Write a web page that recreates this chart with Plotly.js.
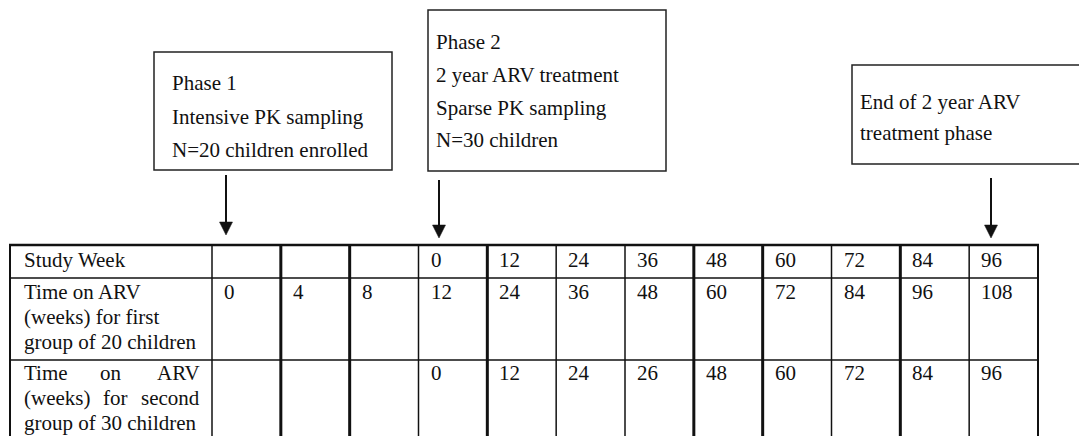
<!DOCTYPE html>
<html>
<head>
<meta charset="utf-8">
<script src="https://cdn.plot.ly/plotly-3.0.1.min.js"></script>
<style>html,body{margin:0;padding:0;background:#fff;}#chart{width:1079px;height:436px;}</style>
</head>
<body>
<div id="chart"></div>
<script>
// ---- data ----
const rowLabel1 = ["Study Week"];
const rowLabel2 = ["Time on ARV", "(weeks) for first", "group of 20 children"];
const rowLabel3 = [["Time", "on", "ARV"], ["(weeks)", "for", "second"], ["group of 30 children"]];
const studyWeek   = [null, null, null, 0, 12, 24, 36, 48, 60, 72, 84, 96];
const firstGroup  = [0, 4, 8, 12, 24, 36, 48, 60, 72, 84, 96, 108];
const secondGroup = [null, null, null, 0, 12, 24, 26, 48, 60, 72, 84, 96];
const box1Text = ["Phase 1", "Intensive PK sampling", "N=20 children enrolled"];
const box2Text = ["Phase 2", "2 year ARV treatment", "Sparse PK sampling", "N=30 children"];
const box3Text = ["End of 2 year ARV", "treatment phase"];

// ---- layout geometry ----
const W = 1079, H = 436;
const tableLeft = 10, firstColRight = 212, tableRight = 1038, tableTop = 245;
const rowLines = [278, 360];
const nCols = studyWeek.length;
const colW = (tableRight - firstColRight) / nCols;
const thickIdx = [1, 2, 4, 7, 8, 10];
const FONT = {family: "Liberation Serif, Times New Roman, serif", size: 21, color: "#111"};
const lineCol = "#111";

const shapes = [];
const annotations = [];

function line(x0, y0, x1, y1, w) {
  shapes.push({type: "line", xref: "x", yref: "y", x0, y0, x1, y1, line: {color: lineCol, width: w}});
}
function rect(x0, y0, x1, y1) {
  shapes.push({type: "rect", xref: "x", yref: "y", x0, y0, x1, y1, line: {color: "#222", width: 1.5}, fillcolor: "rgba(0,0,0,0)"});
}
function text(t, x, y, anchor) {
  annotations.push({text: t, x, y, xref: "x", yref: "y", xanchor: anchor || "left", yanchor: "middle",
    showarrow: false, font: FONT, borderpad: 0});
}
function arrow(x, y0, tip) {
  const head = 13, half = 6.5;
  line(x, y0, x, tip - head + 1, 2);
  shapes.push({type: "path", xref: "x", yref: "y",
    path: `M ${x - half},${tip - head} L ${x + half},${tip - head} L ${x},${tip} Z`,
    fillcolor: lineCol, line: {color: lineCol, width: 0.5}});
}

// table grid
line(tableLeft - 1, tableTop, tableRight + 1, tableTop, 2.5);
rowLines.forEach(y => line(tableLeft, y, tableRight, y, 1.5));
line(tableLeft, tableTop, tableLeft, H + 5, 2);
line(firstColRight, tableTop, firstColRight, H + 5, 1.5);
for (let i = 1; i <= nCols; i++) {
  const x = firstColRight + i * colW;
  line(x, tableTop, x, H + 5, thickIdx.includes(i) ? 3 : (i === nCols ? 2 : 1.5));
}

// row labels
text(rowLabel1[0], 23, 260);
[292, 317, 342].forEach((y, i) => text(rowLabel2[i], 23, y));
// justified label for row 3
text(rowLabel3[0][0], 23, 373);
text(rowLabel3[0][1], 111, 373, "center");
text(rowLabel3[0][2], 201, 373, "right");
text(rowLabel3[1][0], 23, 398);
text(rowLabel3[1][1], 115, 398, "center");
text(rowLabel3[1][2], 201, 398, "right");
text(rowLabel3[2][0], 23, 423);

// cell values
const rows = [[studyWeek, 260], [firstGroup, 292], [secondGroup, 373]];
rows.forEach(([vals, y]) => {
  vals.forEach((v, i) => {
    if (v !== null) text(String(v), firstColRight + i * colW + 11, y);
  });
});

// boxes
rect(154, 52, 392, 170);
[83, 117, 150].forEach((y, i) => text(box1Text[i], 171, y));
rect(428, 10, 666, 171);
[42, 75, 108, 140].forEach((y, i) => text(box2Text[i], 435, y));
rect(852, 65, 1100, 164);
[102, 133].forEach((y, i) => text(box3Text[i], 859, y));

// arrows
arrow(226, 175, 235);
arrow(439, 180, 238);
arrow(991, 178, 238);

const layout = {
  width: W, height: H,
  margin: {l: 0, r: 0, t: 0, b: 0},
  paper_bgcolor: "#fff", plot_bgcolor: "#fff",
  xaxis: {range: [0, W], visible: false, fixedrange: true},
  yaxis: {range: [H, 0], visible: false, fixedrange: true},
  showlegend: false,
  shapes, annotations
};
Plotly.newPlot("chart", [{x: [], y: [], type: "scatter", mode: "markers", hoverinfo: "skip"}], layout,
  {staticPlot: true, displayModeBar: false});
</script>
</body>
</html>
